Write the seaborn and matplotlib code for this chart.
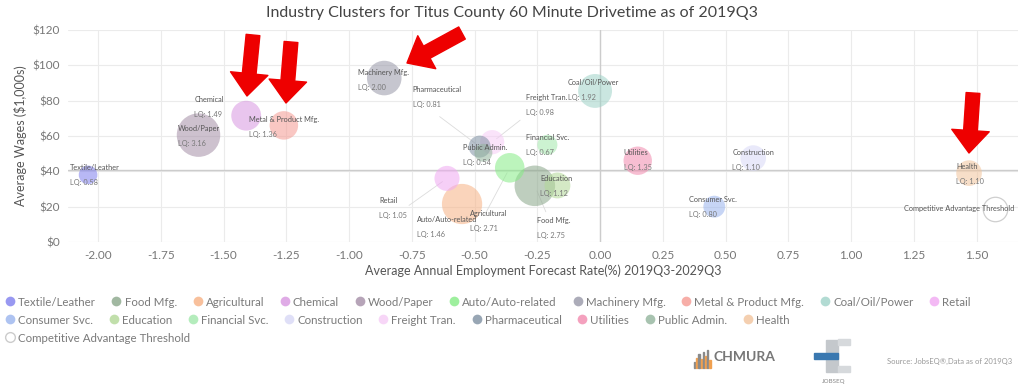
import numpy as np
import pandas as pd
import matplotlib
matplotlib.use("Agg")
import matplotlib.pyplot as plt
import seaborn as sns
from matplotlib.lines import Line2D
from matplotlib.patches import Rectangle

# industry clusters: name, forecast rate, avg wage ($1000s), LQ
industries = ["Textile/Leather", "Food Mfg.", "Agricultural", "Chemical", "Wood/Paper",
              "Auto/Auto-related", "Machinery Mfg.", "Metal & Product Mfg.", "Coal/Oil/Power",
              "Retail", "Consumer Svc.", "Education", "Financial Svc.", "Construction",
              "Freight Tran.", "Pharmaceutical", "Utilities", "Public Admin.", "Health"]
growth = [-2.04, -0.26, -0.55, -1.41, -1.60, -0.36, -0.86, -1.26, -0.02,
          -0.61, 0.455, -0.17, -0.21, 0.61, -0.43, -0.48, 0.15, -0.465, 1.47]
wages = [38.0, 31.8, 21.5, 71.5, 60.5, 42.0, 92.8, 66.0, 85.5,
         36.0, 20.0, 32.0, 55.0, 47.5, 56.5, 54.0, 46.0, 50.5, 39.0]
lq = [0.58, 2.75, 2.71, 1.49, 3.16, 1.46, 2.00, 1.36, 1.92,
      1.05, 0.80, 1.12, 0.67, 1.10, 0.98, 0.81, 1.35, 0.54, 1.10]
colors = ["#7f7fee", "#8aa68a", "#f7b184", "#d896e0", "#a48ea6", "#86ec86", "#9898a8",
          "#f59a92", "#9fd3c8", "#f0a8f2", "#9ab4ee", "#b2d896", "#a2e8ac", "#d8d8f6",
          "#f6ccf6", "#7f90a2", "#f28aae", "#92b49c", "#f2c49c"]

threshold_name = "Competitive Advantage Threshold"
threshold_x = [1.575]
threshold_y = [18.7]
threshold_lq = [1.0]

# label offsets in pixels (dx, dy) and optional leader start
label_off = [(-18, 7), (2, -35), (8, -9), (-52, 16), (-21, 7), (-93, -52), (-26, 6),
             (-35, 6), (-27, 8), (-68, -22), (-25, 7), (-17, 7), (-21, 7), (-21, 6),
             (34, 45), (-67, 57), (-14, 8), (-20, 5), (-13, 7)]
leaders = {"Food Mfg.": (11, -26), "Auto/Auto-related": (-25, -47), "Retail": (-38, -27),
           "Freight Tran.": (28, 22), "Pharmaceutical": (-40, 30)}

df = pd.DataFrame({"industry": industries, "growth": growth, "wages": wages, "lq": lq})
palette = dict(zip(industries, colors))

sns.set_style("white")
plt.rcParams["font.family"] = ["Lato", "DejaVu Sans"]

fig = plt.figure(figsize=(10.24, 3.89), dpi=100)
ax = fig.add_axes([68 / 1024, 1 - 242 / 389, 950 / 1024, 212 / 389])

K = 310
sns.scatterplot(data=df, x="growth", y="wages", hue="industry", palette=palette,
                size="lq", sizes=(0, K * 3.16), size_norm=(0, 3.16), alpha=0.55,
                linewidth=0, legend=False, ax=ax, zorder=3)
ax.scatter(threshold_x, threshold_y, s=[K * v for v in threshold_lq], facecolor="white",
           edgecolor="#cfcfcf", linewidth=0.9, zorder=3)

px = 0.72
for name, x, y, v, (dx, dy) in zip(industries, growth, wages, lq, label_off):
    ax.annotate(name, (x, y), xytext=(dx * px, dy * px), textcoords="offset points",
                ha="left", va="center", fontsize=5.3, color="#555555", zorder=5)
    ax.annotate(f"LQ: {v:.2f}", (x, y), xytext=(dx * px, (dy - 15) * px),
                textcoords="offset points", ha="left", va="center", fontsize=5.3,
                color="#777777", zorder=5)
    if name in leaders:
        lx, ly = leaders[name]
        ax.annotate("", (x, y), xytext=(lx * px, ly * px), textcoords="offset points",
                    arrowprops=dict(arrowstyle="-", color="#dcdcdc", lw=0.6,
                                    shrinkA=0, shrinkB=4), zorder=2)
ax.annotate(threshold_name, (threshold_x[0], threshold_y[0]), xytext=(-91 * px, 0),
            textcoords="offset points", ha="left", va="center", fontsize=5.3,
            color="#555555", zorder=5)

ax.set_xlim(-2.12, 1.665)
ax.set_ylim(0, 120)
ax.set_xticks(np.arange(-2.0, 1.51, 0.25))
ax.set_xticklabels([f"{t:.2f}" for t in np.arange(-2.0, 1.51, 0.25)])
ax.set_yticks(range(0, 121, 20))
ax.set_yticklabels([f"${t}" for t in range(0, 121, 20)])
ax.grid(True, color="#ebebeb", lw=0.8)
ax.set_axisbelow(True)
for s in ax.spines.values():
    s.set_visible(False)
ax.axhline(40.5, color="#cccccc", lw=1.0, zorder=1)
ax.axvline(0, color="#cccccc", lw=1.0, zorder=1)
ax.tick_params(axis="both", labelsize=8.5, colors="#777777", length=0, pad=6)
ax.set_xlabel("Average Annual Employment Forecast Rate(%) 2019Q3-2029Q3",
              fontsize=9, color="#555555", labelpad=2)
ax.set_ylabel("Average Wages ($1,000s)", fontsize=9, color="#555555", labelpad=4)
fig.text(0.5, 1 - 13 / 389, "Industry Clusters for Titus County 60 Minute Drivetime as of 2019Q3",
         ha="center", va="center", fontsize=11.5, color="#444444")

# legend rows (flow layout)
rows = [industries[:10], industries[10:], [threshold_name]]
row_y = [302, 320, 338]
for names, yy in zip(rows, row_y):
    handles = []
    for n in names:
        if n == threshold_name:
            handles.append(Line2D([], [], marker="o", ls="", markersize=7,
                                  markerfacecolor="white", markeredgecolor="#cccccc"))
        else:
            handles.append(Line2D([], [], marker="o", ls="", markersize=7,
                                  markerfacecolor=palette[n], markeredgecolor="none",
                                  alpha=0.8))
    leg = fig.legend(handles, names, loc="center left", bbox_to_anchor=(4 / 1024, 1 - yy / 389),
                     ncol=len(names), frameon=False, fontsize=8.3, handletextpad=0.2,
                     columnspacing=1.3, handlelength=1.0, borderpad=0, borderaxespad=0)
    for t in leg.get_texts():
        t.set_color("#7a7a7a")

# logos / source
bar_h = [6, 10, 14, 9, 16, 12, 18, 8]
for i, h in enumerate(bar_h):
    c = "#f0a050" if i % 2 else "#8a8a8a"
    fig.patches.append(Rectangle(((694 + i * 2.2) / 1024, (389 - 368) / 389), 1.2 / 1024,
                                 h / 389, transform=fig.transFigure, color=c))
fig.text(713 / 1024, 1 - 357 / 389, "CHMURA", fontsize=10, color="#777777",
         fontweight="bold", va="center", ha="left")
fig.patches.append(Rectangle((826 / 1024, 1 - 372 / 389), 12 / 1024, 32 / 389,
                             transform=fig.transFigure, color="#c4c8cc"))
fig.patches.append(Rectangle((838 / 1024, 1 - 345 / 389), 12 / 1024, 6 / 389,
                             transform=fig.transFigure, color="#d6d9dc"))
fig.patches.append(Rectangle((838 / 1024, 1 - 372 / 389), 12 / 1024, 6 / 389,
                             transform=fig.transFigure, color="#d6d9dc"))
fig.patches.append(Rectangle((814 / 1024, 1 - 359 / 389), 24 / 1024, 6 / 389,
                             transform=fig.transFigure, color="#3a78b0"))
fig.text(834 / 1024, 1 - 381 / 389, "JOBSEQ", fontsize=4.5, color="#888888",
         ha="center", va="center")
fig.text(1012 / 1024, 1 - 361 / 389, "Source: JobsEQ\u00ae,Data as of 2019Q3", fontsize=5.5,
         color="#999999", ha="right", va="center")

# red highlight arrows (figure pixels)
arrows = [((253, 35), (247, 96)), ((291, 42), (286, 103)),
          ((462, 33), (407, 63)), ((973, 93), (969, 153))]
for (x0, y0), (x1, y1) in arrows:
    ax.annotate("", xy=(x1, 389 - y1), xytext=(x0, 389 - y0), xycoords="figure pixels",
                textcoords="figure pixels",
                arrowprops=dict(arrowstyle="simple,head_length=0.9,head_width=1.5,tail_width=0.55",
                                color="#ee0000", mutation_scale=18, shrinkA=0, shrinkB=0),
                annotation_clip=False, zorder=10)

fig.savefig("out.png", dpi=100)
